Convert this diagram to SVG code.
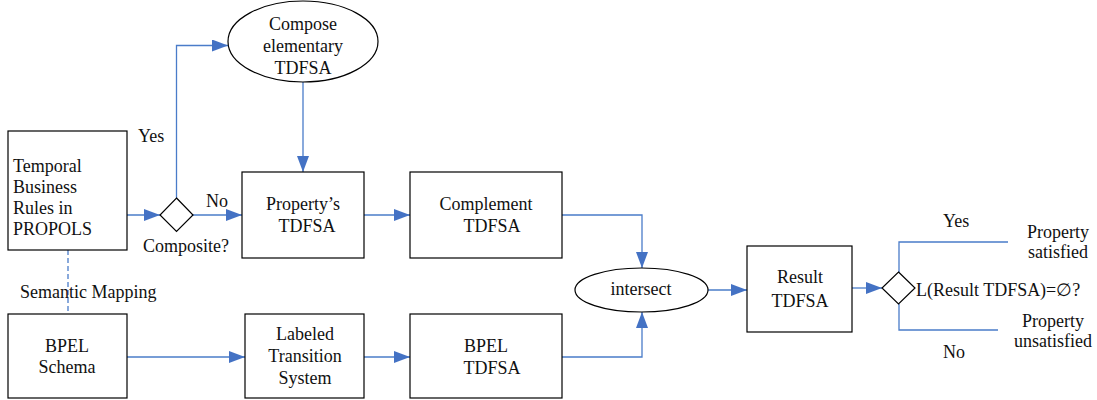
<svg xmlns="http://www.w3.org/2000/svg" width="1097" height="400" viewBox="0 0 1097 400" font-family="'Liberation Serif', 'DejaVu Serif', serif">
  <defs>
    <style>
      .box { fill: #ffffff; stroke: #000000; stroke-width: 1.2; }
      .lbl { font-size: 18px; fill: #111111; }
      .mid { text-anchor: middle; }
      .wire { fill: none; stroke: #4a7cc9; stroke-width: 1.3; }
      .dash { fill: none; stroke: #4a7cc9; stroke-width: 1.3; stroke-dasharray: 5 3; }
    </style>
    <marker id="arrow" viewBox="0 0 16 12" refX="16" refY="6" markerWidth="16" markerHeight="12" markerUnits="userSpaceOnUse" orient="auto">
      <path d="M0,0 L16,6 L0,12 Z" fill="#4472c4"/>
    </marker>
  </defs>

  <rect width="1097" height="400" fill="#ffffff"/>

  <!-- connectors -->
  <g id="connectors">
    <path class="wire" d="M127,215 L160,215" marker-end="url(#arrow)"/>
    <path class="wire" d="M176.5,198 L176.5,45.5 L228,45.5" marker-end="url(#arrow)"/>
    <path class="wire" d="M193,215 L242,215" marker-end="url(#arrow)"/>
    <path class="wire" d="M303,82 L303,172" marker-end="url(#arrow)"/>
    <path class="wire" d="M364,215 L410,215" marker-end="url(#arrow)"/>
    <path class="wire" d="M562,215 L642,215 L642,268" marker-end="url(#arrow)"/>
    <path class="dash" d="M68,250 L68,314"/>
    <path class="wire" d="M127,357 L245,357" marker-end="url(#arrow)"/>
    <path class="wire" d="M364,357 L410,357" marker-end="url(#arrow)"/>
    <path class="wire" d="M562,357 L642,357 L642,312" marker-end="url(#arrow)"/>
    <path class="wire" d="M708,290 L747,290" marker-end="url(#arrow)"/>
    <path class="wire" d="M852,288 L882,288" marker-end="url(#arrow)"/>
    <path class="wire" d="M899,272 L899,242 L1008,242"/>
    <path class="wire" d="M899,304 L899,330 L998,330"/>
    <text class="lbl" x="138" y="142">Yes</text>
    <text class="lbl" x="206" y="207">No</text>
    <text class="lbl" x="20" y="298">Semantic Mapping</text>
    <text class="lbl" x="943" y="227">Yes</text>
    <text class="lbl" x="943" y="358">No</text>
  </g>

  <g id="temporal-rules">
    <rect class="box" x="8" y="131" width="119" height="119"/>
    <text class="lbl" x="13" y="172">Temporal</text>
    <text class="lbl" x="13" y="193">Business</text>
    <text class="lbl" x="13" y="214">Rules in</text>
    <text class="lbl" x="13" y="235">PROPOLS</text>
  </g>

  <g id="composite-check">
    <path class="box" d="M176.5,198 L193,215 L176.5,231.5 L160,215 Z"/>
    <text class="lbl" x="143" y="252">Composite?</text>
  </g>

  <g id="compose-elementary">
    <ellipse class="box" cx="303" cy="41.5" rx="75" ry="40.5"/>
    <text class="lbl mid" x="303" y="30">Compose</text>
    <text class="lbl mid" x="303" y="52">elementary</text>
    <text class="lbl mid" x="303" y="74">TDFSA</text>
  </g>

  <g id="property-tdfsa">
    <rect class="box" x="242" y="172" width="122" height="86"/>
    <text class="lbl mid" x="303" y="210">Property’s</text>
    <text class="lbl mid" x="307" y="232">TDFSA</text>
  </g>

  <g id="complement-tdfsa">
    <rect class="box" x="410" y="172" width="152" height="86"/>
    <text class="lbl mid" x="486" y="210">Complement</text>
    <text class="lbl mid" x="492" y="232">TDFSA</text>
  </g>

  <g id="bpel-schema">
    <rect class="box" x="8" y="314" width="119" height="84"/>
    <text class="lbl mid" x="67" y="352">BPEL</text>
    <text class="lbl mid" x="67" y="373">Schema</text>
  </g>

  <g id="lts">
    <rect class="box" x="245" y="314" width="119" height="84"/>
    <text class="lbl mid" x="305" y="340">Labeled</text>
    <text class="lbl mid" x="305" y="362">Transition</text>
    <text class="lbl mid" x="305" y="384">System</text>
  </g>

  <g id="bpel-tdfsa">
    <rect class="box" x="410" y="314" width="152" height="84"/>
    <text class="lbl mid" x="486" y="352">BPEL</text>
    <text class="lbl mid" x="492" y="374">TDFSA</text>
  </g>

  <g id="intersect">
    <ellipse class="box" cx="641.5" cy="290" rx="66.5" ry="22"/>
    <text class="lbl mid" x="641" y="295">intersect</text>
  </g>

  <g id="result-tdfsa">
    <rect class="box" x="747" y="246" width="105" height="86"/>
    <text class="lbl mid" x="800" y="283">Result</text>
    <text class="lbl mid" x="800" y="307">TDFSA</text>
  </g>

  <g id="emptiness-check">
    <path class="box" d="M898.5,272 L915,288 L898.5,304 L882,288 Z"/>
    <text class="lbl" x="916" y="296">L(Result TDFSA</text>
    <text class="lbl" x="1040" y="296">)=∅?</text>
  </g>

  <g id="satisfied">
    <text class="lbl mid" x="1058" y="238">Property</text>
    <text class="lbl mid" x="1058" y="258">satisfied</text>
  </g>

  <g id="unsatisfied">
    <text class="lbl mid" x="1053" y="327">Property</text>
    <text class="lbl mid" x="1053" y="347">unsatisfied</text>
  </g>
</svg>
